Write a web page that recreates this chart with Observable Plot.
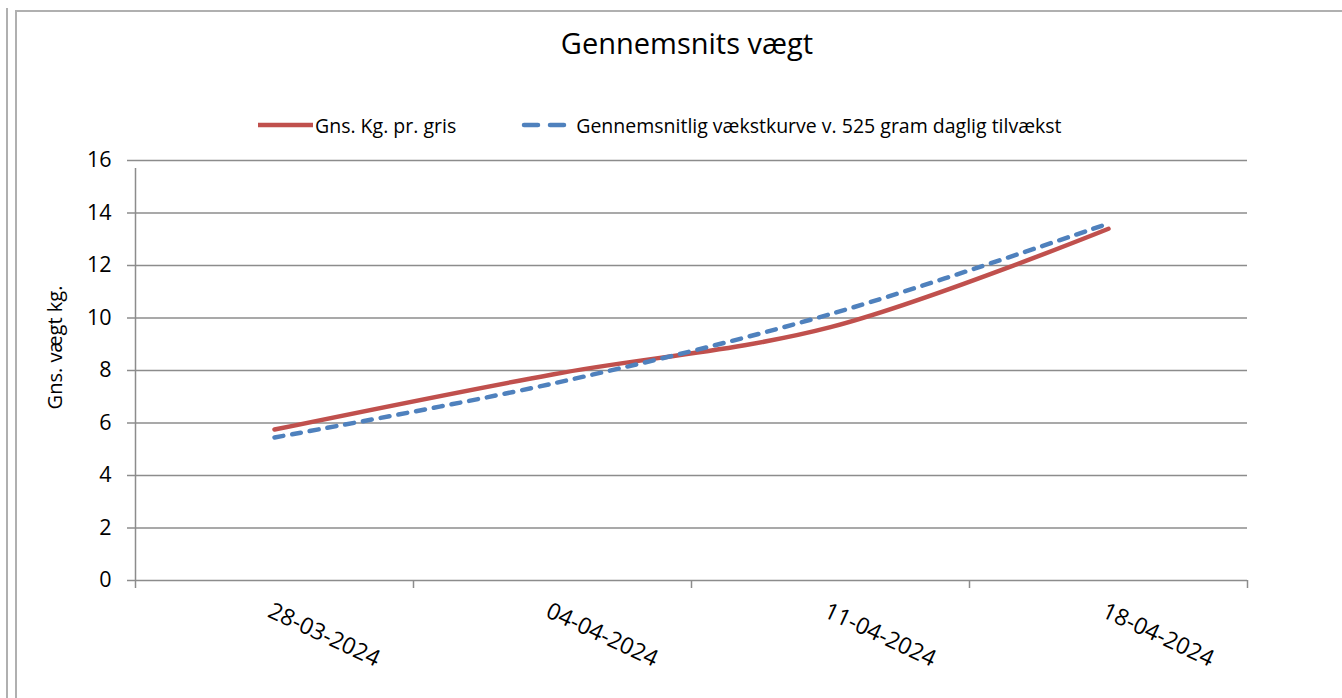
<!DOCTYPE html>
<html>
<head>
<meta charset="utf-8">
<script src="https://cdn.jsdelivr.net/npm/d3@7"></script>
<script src="https://cdn.jsdelivr.net/npm/@observablehq/plot@0.6"></script>
<style>
  html, body { margin: 0; padding: 0; background: #fff; }
  body { width: 1342px; height: 698px; position: relative; overflow: hidden; font-family: "Open Sans", sans-serif; color: #000; }
  .vline1 { position: absolute; left: 6px; top: 8px; width: 2px; height: 700px; background: #b0b0b0; }
  .vline2 { position: absolute; left: 15px; top: 10px; width: 2px; height: 700px; background: #b0b0b0; }
  .hline { position: absolute; left: 15px; top: 10px; width: 1340px; height: 2px; background: #b0b0b0; }
  #title { position: absolute; left: 0; width: 1374px; top: 23px; text-align: center; font-size: 29px; line-height: 40px; }
  #legend { position: absolute; top: 111px; left: 258px; height: 28px; display: flex; align-items: center; font-size: 19.5px; white-space: nowrap; }
  #legend .item { display: flex; align-items: center; }
  #chart { position: absolute; left: 0; top: 140px; }
</style>
</head>
<body>
<div class="vline1"></div>
<div class="vline2"></div>
<div class="hline"></div>
<div id="title">Gennemsnits vægt</div>
<div id="legend"></div>
<div id="chart"></div>
<script>
const dates = ["28-03-2024", "04-04-2024", "11-04-2024", "18-04-2024"];
const gnsKgPrGris = [5.75, 7.85, 9.65, 13.4];
const vaekstkurve = [5.45, 7.5, 10.15, 13.6];
const yTicks = [0, 2, 4, 6, 8, 10, 12, 14, 16];
const seriesNames = ["Gns. Kg. pr. gris", "Gennemsnitlig vækstkurve v. 525 gram daglig tilvækst"];
const seriesColors = ["#C0504D", "#4F81BD"];
const yLabel = "Gns. vægt kg.";

const rows = dates.map((d, i) => ({date: d, pos: i + 0.5, kg: gnsKgPrGris[i], vk: vaekstkurve[i]}));
const boundaries = d3.range(dates.length + 1);

// Legend
const legend = document.getElementById("legend");
seriesNames.forEach((name, i) => {
  const item = document.createElement("div");
  item.className = "item";
  item.style.marginRight = i === 0 ? "64px" : "0";
  const sw = i === 0
    ? `<svg width="55" height="10"><line x1="0" y1="5" x2="55" y2="5" stroke="${seriesColors[0]}" stroke-width="4.5"/></svg>`
    : `<svg width="50" height="10"><line x1="4" y1="5" x2="44" y2="5" stroke="${seriesColors[1]}" stroke-width="4.5" stroke-linecap="round" stroke-dasharray="14,12"/></svg>`;
  item.innerHTML = sw + `<span style="margin-left:${i === 0 ? 2 : 6}px">${name}</span>`;
  legend.appendChild(item);
});

const chart = Plot.plot({
  width: 1342,
  height: 558,
  marginTop: 20,
  marginBottom: 118,
  marginLeft: 135,
  marginRight: 95,
  style: {fontFamily: "Open Sans, sans-serif", fontSize: "20px", color: "#000", background: "transparent"},
  x: {domain: [0, dates.length]},
  y: {domain: [0, 16]},
  marks: [
    Plot.ruleY(yTicks, {stroke: "#8c8c8c", strokeWidth: 1.5}),
    Plot.ruleX([0], {stroke: "#8c8c8c", strokeWidth: 1.5, y1: 0, y2: 16, insetBottom: -8}),
    Plot.axisY({ticks: yTicks, tickSize: 8, tickPadding: 16, stroke: "#8c8c8c", strokeWidth: 1.5, label: null, fontSize: 21.5, color: "#000"}),
    Plot.axisX({ticks: boundaries, tickSize: 8, tickFormat: () => "", stroke: "#8c8c8c", strokeWidth: 1.5, label: null}),
    Plot.text(rows, {x: "pos", frameAnchor: "bottom", text: "date", rotate: 25, textAnchor: "start", lineAnchor: "top", dy: 21, dx: -1, fontSize: 23, fill: "#000"}),
    Plot.text([yLabel], {frameAnchor: "left", rotate: -90, textAnchor: "middle", dx: -80, dy: -23, fontSize: 20, fill: "#000"}),
    Plot.line(rows, {x: "pos", y: "kg", stroke: seriesColors[0], strokeWidth: 4.5, curve: "catmull-rom"}),
    Plot.line(rows, {x: "pos", y: "vk", stroke: seriesColors[1], strokeWidth: 4.5, curve: "catmull-rom", strokeDasharray: "9,9", strokeLinecap: "round"})
  ]
});
document.getElementById("chart").appendChild(chart);
</script>
</body>
</html>
